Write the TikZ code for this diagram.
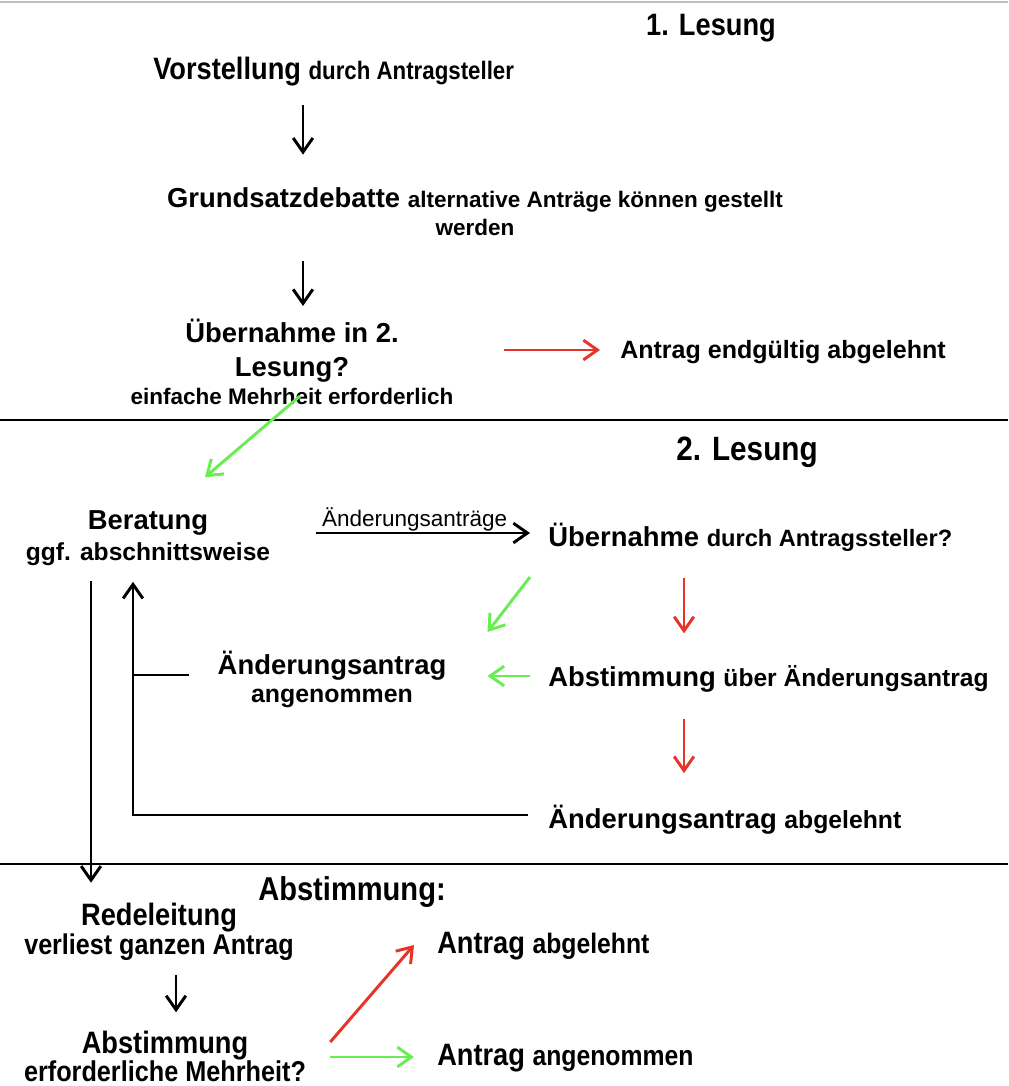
\documentclass[tikz,border=0pt]{standalone}
\usepackage{fontspec}
\setmainfont{Liberation Sans}
\newfontfamily\narrowfont[FakeStretch=0.88]{Liberation Sans}
\usetikzlibrary{arrows.meta}
\usetikzlibrary{calc}

\definecolor{arrred}{RGB}{230,52,40}
\definecolor{arrgreen}{RGB}{104,238,82}
\definecolor{rulegray}{RGB}{190,190,190}

\newcommand{\sz}[1]{\fontsize{#1}{20}\selectfont}

\tikzset{
    txt/.style={inner sep=0pt, align=center, font=\bfseries\fontsize{19.5}{20}\selectfont},
    ntxt/.style={txt, font=\bfseries\narrowfont\fontsize{22}{20}\selectfont},
    arr/.style={-{Straight Barb[length=10pt,width=14pt]}, line width=2.1pt},
    redarr/.style={arr, draw=arrred},
    grarr/.style={arr, draw=arrgreen},
    plain/.style={line width=2.1pt},
    rule/.style={line width=1.4pt},
}

\begin{document}
\begin{tikzpicture}[x=0.025cm, y=-0.025cm]
    \useasboundingbox (0,0) rectangle (1008,1086);

    % section rules
    \draw[rule, rulegray] (0,2) -- (1008,2);
    \draw[rule] (0,420) -- (1008,420);
    \draw[rule] (0,864) -- (1008,864);

    % columns for the vertical arrows
    \coordinate (cola) at (303,0);
    \coordinate (colr) at (684,0);
    \coordinate (colb) at (176,0);
    \coordinate (colu) at (133,0);
    \coordinate (colL) at (91,0);

    % 1. Lesung
    \node[ntxt] (lesung1) at (711,28) {1. Lesung};
    \node[ntxt, anchor=west] (vorst) at (153,72) {Vorstellung \sz{18}durch Antragsteller};
    \node[txt] (grund) at (475,212) {Grundsatzdebatte {\sz{16}alternative Anträge können gestellt}\\{\sz{16}werden}};
    \node[txt] (uebern) at (292,362) {Übernahme in 2.\\[4pt]Lesung?\\{\sz{16}einfache Mehrheit erforderlich}};
    \node[txt, anchor=west] (abl1) at (620,352) {\sz{17.8}Antrag endgültig abgelehnt};

    \draw[arr] ($(vorst.south -| cola)+(0,18)$) -- ($(grund.north -| cola)+(0,-33)$);
    \draw[arr] ($(grund.south -| cola)+(0,25)$) -- ($(uebern.north -| cola)+(0,-13)$);
    \draw[redarr] ($(uebern.east |- abl1.west)+(50,-2)$) -- ($(abl1.west)+(-20,-2)$);

    % 2. Lesung
    \node[ntxt, font=\bfseries\narrowfont\sz{24}] (lesung2) at (747,452) {2. Lesung};
    \node[txt] (berat) at (148,538) {Beratung\\[2pt]{\sz{17.5}ggf. abschnittsweise}};
    \node[txt, anchor=west] (uebds) at (548,537) {Übernahme \sz{16.8}durch Antragssteller?};
    \node[txt] (aenang) at (332,679) {Änderungsantrag\\{\sz{17.7}angenommen}};
    \node[txt, anchor=west] (abstae) at (548,679) {Abstimmung \sz{17.5}über Änderungsantrag};
    \node[txt, anchor=west] (aenabg) at (548,820) {Änderungsantrag \sz{17.6}abgelehnt};

    \draw[grarr] ($(uebern.south)+(8,-9)$) -- ($(berat.north)+(57,-33)$);
    \draw[arr] ($(berat.east)+(46,-5)$) -- node[pos=0.46, above, inner sep=0.5pt, font=\mdseries\sz{16}] (lblae) {Änderungsanträge} ($(uebds.west)+(-18,-4)$);
    \draw[grarr] ($(uebds.west)+(-18,40)$) -- ($(aenang.east)+(41,-47)$);
    \draw[redarr] ($(uebds.south -| colr)+(0,26)$) -- ($(abstae.north -| colr)+(0,-32)$);
    \draw[grarr] ($(abstae.west)+(-18,-3)$) -- ($(aenang.east)+(41,-3)$);
    \draw[redarr] ($(abstae.south -| colr)+(0,26)$) -- ($(aenabg.north -| colr)+(0,-32)$);
    \draw[arr] ($(aenabg.west)+(-20,-5)$) -| ($(berat.south -| colu)+(0,16)$);
    \draw[plain] ($(aenang.west)+(-28,-4)$) -- ($(aenang.west -| colu)+(0,-4)$);

    % Abstimmung
    \node[ntxt, font=\bfseries\narrowfont\sz{23.5}] (abst3) at (352,892) {Abstimmung:};
    \node[ntxt] (rede) at (159,932) {Redeleitung\\[1pt]{\sz{20.3}verliest ganzen Antrag}};
    \node[ntxt] (abst4) at (165,1056) {Abstimmung\\{\sz{20.4}erforderliche Mehrheit?}};
    \node[ntxt, anchor=west] (antabg) at (437,946) {Antrag \sz{20}abgelehnt};
    \node[ntxt, anchor=west] (antang) at (437,1058) {Antrag \sz{20}angenommen};

    \draw[arr] ($(berat.south -| colL)+(0,15)$) -- ($(rede.north -| colL)+(0,-20)$);
    \draw[arr] ($(rede.south -| colb)+(0,14)$) -- ($(abst4.north -| colb)+(0,-18)$);
    \draw[redarr] ($(abst4.east)+(24,-14)$) -- ($(antabg.west)+(-23,-1)$);
    \draw[grarr] ($(abst4.east)+(24,1)$) -- ($(antang.west)+(-23,-1)$);
\end{tikzpicture}
\end{document}
